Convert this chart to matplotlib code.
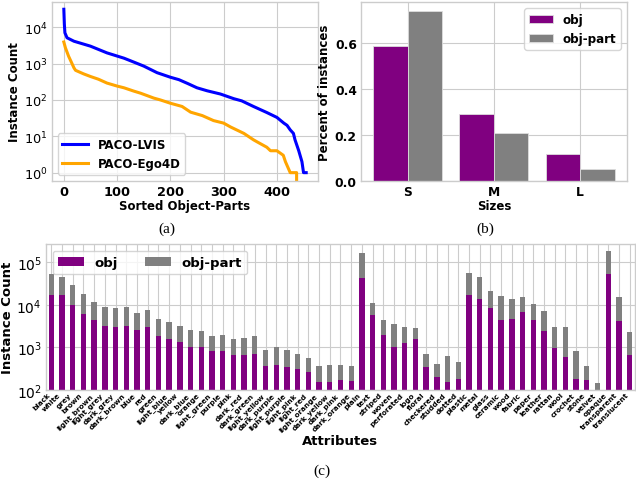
import matplotlib
matplotlib.use("Agg")
import matplotlib.pyplot as plt
import numpy as np

# ---------------- Panel (a) data: sorted object-part instance counts ----------------
lvis_idx = [0, 1, 2, 6, 19, 50, 81, 113, 131, 150, 175, 200, 216, 233, 250, 269, 294,
            319, 334, 356, 381, 400, 413, 419, 425, 431, 434, 441, 447, 450, 455]
lvis_cnt = [31000, 12000, 7000, 5100, 4100, 3000, 1960, 1400, 1100, 850, 560, 420, 360,
            280, 215, 178, 145, 108, 94, 66, 45, 33, 23, 20, 15, 12, 8, 4, 2, 1, 1]
ego_idx = [0, 3, 9, 14, 19, 22, 37, 50, 65, 81, 100, 113, 131, 144, 169, 181, 200, 222,
           238, 260, 281, 300, 313, 338, 356, 363, 381, 388, 400, 412, 416, 425, 437, 437]
ego_cnt = [3900, 2700, 1580, 1100, 760, 650, 520, 440, 370, 290, 240, 215, 175, 153, 112,
           100, 81, 66, 46, 37, 27, 23, 18, 12, 8, 7, 5, 4, 4, 3, 2, 1, 1, 0]

# ---------------- Panel (b) data ----------------
sizes = ["S", "M", "L"]
size_obj = [0.59, 0.292, 0.117]
size_part = [0.742, 0.207, 0.05]

# ---------------- Panel (c) data ----------------
attributes = ["black", "white", "grey", "brown", "light_brown", "light_grey", "dark_grey",
              "dark_brown", "blue", "red", "green", "light_blue", "yellow", "dark_blue",
              "orange", "light_green", "purple", "pink", "dark_red", "dark_green",
              "light_yellow", "dark_purple", "light_purple", "light_pink", "light_red",
              "light_orange", "dark_yellow", "dark_pink", "dark_orange",
              "plain", "text", "striped", "woven", "perforated", "logo", "floral",
              "checkered", "studded", "dotted",
              "plastic", "metal", "glass", "ceramic", "wood", "fabric", "paper", "leather",
              "rattan", "wool", "crochet", "stone", "velvet",
              "opaque", "transparent", "translucent"]
attr_obj = [17000, 17000, 10000, 6100, 4500, 3250, 3100, 3150, 2600, 3100,
            1820, 1600, 1310, 1040, 1020, 805, 805, 660, 670, 720,
            376, 396, 355, 313, 261, 157, 152, 169, 163,
            41900, 5700, 1920, 1040, 1290, 1550, 349, 203, 155, 182,
            17200, 13900, 8650, 4500, 4760, 6960, 4420, 2480, 946, 613, 182, 172, 50,
            53000, 4100, 683]
attr_total = [54000, 46000, 30000, 18000, 12000, 9000, 8500, 8800, 6500, 7800,
              4600, 3900, 3150, 2600, 2400, 1900, 1950, 1600, 1660, 1850,
              880, 1020, 865, 720, 580, 362, 383, 389, 369,
              169000, 11150, 4500, 3620, 3080, 2860, 696, 404, 636, 450,
              55000, 45900, 21800, 16300, 14100, 15500, 10600, 7350, 3080, 3080, 819, 376, 144,
              182000, 15200, 2340]

PURPLE = "#800080"
GRAY = "#808080"
GRID = "#cccccc"

plt.rcParams.update({
    "font.family": "DejaVu Sans",
    "axes.edgecolor": GRID,
    "axes.linewidth": 1.0,
    "grid.color": GRID,
    "grid.linewidth": 0.8,
    "xtick.major.size": 0,
    "ytick.major.size": 0,
    "xtick.major.pad": 3,
    "ytick.major.pad": 3,
    "legend.edgecolor": GRID,
})

fig = plt.figure(figsize=(6.36, 4.81), dpi=100)

def style(ax):
    ax.set_axisbelow(True)
    ax.grid(True)
    for s in ax.spines.values():
        s.set_color(GRID)

# ---------------- (a) ----------------
axa = fig.add_axes([0.0813, 0.6222, 0.4192, 0.3715])
style(axa)
axa.plot(lvis_idx, lvis_cnt, color="blue", lw=2.2, label="PACO-LVIS")
axa.plot(ego_idx, ego_cnt, color="orange", lw=2.2, label="PACO-Ego4D")
axa.set_yscale("log")
axa.set_xlim(-22.75, 477.75)
axa.set_ylim(0.6, 49000)
axa.set_xticks([0, 100, 200, 300, 400])
axa.set_yticks([1, 10, 100, 1000, 10000])
axa.minorticks_off()
for t in axa.get_xticklabels():
    t.set_fontweight("bold"); t.set_fontsize(9.3)
axa.tick_params(axis="y", labelsize=9.3)
axa.set_xlabel("Sorted Object-Parts", fontsize=8.5, fontweight="bold", labelpad=1)
axa.set_ylabel("Instance Count", fontsize=8.5, fontweight="bold", labelpad=2)
axa.legend(loc="lower left", prop={"weight": "bold", "size": 8.5}, handlelength=2.2)

# ---------------- (b) ----------------
axb = fig.add_axes([0.5676, 0.6222, 0.4178, 0.371])
style(axb)
xb = np.arange(len(sizes))
w = 0.4
axb.bar(xb - w / 2, size_obj, w, color=PURPLE, edgecolor="#dddddd", linewidth=0.6, label="obj")
axb.bar(xb + w / 2, size_part, w, color=GRAY, edgecolor="#dddddd", linewidth=0.6, label="obj-part")
axb.set_xticks(xb)
axb.set_xticklabels(sizes)
axb.set_yticks([0.0, 0.2, 0.4, 0.6])
for t in axb.get_xticklabels() + axb.get_yticklabels():
    t.set_fontweight("bold"); t.set_fontsize(8.8)
axb.set_xlabel("Sizes", fontsize=8.5, fontweight="bold", labelpad=1)
axb.set_ylabel("Percent of instances", fontsize=8.5, fontweight="bold", labelpad=3)
axb.legend(loc="upper right", prop={"weight": "bold", "size": 8.6})

# ---------------- (c) ----------------
axc = fig.add_axes([0.0723, 0.1871, 0.9261, 0.3035])
style(axc)
xc = np.arange(len(attributes))
part_vals = [t - o for t, o in zip(attr_total, attr_obj)]
axc.bar(xc, attr_obj, 0.5, color=PURPLE, label="obj")
axc.bar(xc, part_vals, 0.5, bottom=attr_obj, color=GRAY, label="obj-part")
axc.set_yscale("log")
axc.set_ylim(100, 2.7e5)
axc.set_xlim(-0.5, len(attributes) - 0.5)
axc.set_xticks(xc)
axc.set_xticklabels(attributes, rotation=45, ha="right", fontsize=5.2, fontweight="bold")
axc.tick_params(axis="x", pad=1)
axc.set_yticks([100, 1000, 10000, 100000])
axc.minorticks_off()
axc.tick_params(axis="y", labelsize=10)
axc.set_xlabel("Attributes", fontsize=9.5, fontweight="bold", labelpad=1)
axc.set_ylabel("Instance Count", fontsize=9.5, fontweight="bold", labelpad=2)
axc.legend(loc="upper left", ncol=2, prop={"weight": "bold", "size": 9.5})

# ---------------- captions ----------------
fig.text(0.2626, 1 - 229 / 481, "(a)", family="Liberation Serif", fontsize=11, ha="center", va="center")
fig.text(0.7626, 1 - 229 / 481, "(b)", family="Liberation Serif", fontsize=11, ha="center", va="center")
fig.text(0.506, 1 - 471 / 481, "(c)", family="Liberation Serif", fontsize=11, ha="center", va="center")

fig.savefig("out.png", dpi=100)
